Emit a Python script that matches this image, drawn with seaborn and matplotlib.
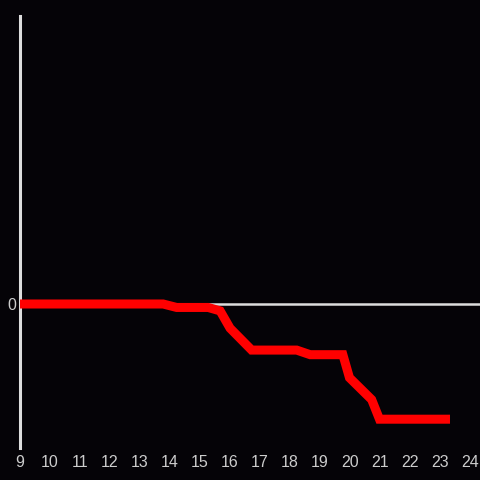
import matplotlib
matplotlib.use("Agg")
import matplotlib.pyplot as plt
import seaborn as sns
import pandas as pd

# =========================================================
# DATA
# =========================================================

hours = [9.0, 13.77, 14.22, 15.27, 15.67, 16.0, 16.72, 18.22, 18.67,
         19.76, 19.98, 20.72, 20.98, 23.33]
values = [0.0, 0.0, -0.03, -0.03, -0.06, -0.21, -0.40, -0.40, -0.44,
          -0.44, -0.64, -0.83, -1.0, -1.0]
x_ticks = list(range(9, 25))
y_ticks = [0]

df = pd.DataFrame({"hour": hours, "value": values})

# =========================================================
# STYLE
# =========================================================

sns.set_style("dark")
plt.rcParams["font.family"] = ["Liberation Sans", "DejaVu Sans"]

bg = "#050307"
fg = "#dddddd"

fig = plt.figure(figsize=(4.8, 4.8), dpi=100, facecolor=bg)
ax = fig.add_axes([20 / 480, 32 / 480, 460 / 480, 432 / 480])
ax.set_facecolor(bg)

# =========================================================
# PLOT
# =========================================================

ax.axhline(0, color=fg, linewidth=1.8, zorder=1)

sns.lineplot(
    x="hour",
    y="value",
    data=df,
    color="#ff0000",
    linewidth=6.5,
    solid_capstyle="butt",
    solid_joinstyle="miter",
    clip_on=False,
    ax=ax,
    zorder=3
)

ax.set_xlim(9, 24.33)
ax.set_ylim(-1.25, 2.5)
ax.set_xticks(x_ticks)
ax.set_yticks(y_ticks)
ax.set_xlabel("")
ax.set_ylabel("")
ax.grid(False)
ax.set_axisbelow(True)

for side in ["top", "right", "bottom"]:
    ax.spines[side].set_visible(False)
ax.spines["left"].set_color(fg)
ax.spines["left"].set_linewidth(2.2)
ax.spines["left"].set_zorder(2)

ax.tick_params(axis="both", length=0, colors="#cccccc", labelsize=11.5)
ax.tick_params(axis="x", pad=5)
ax.tick_params(axis="y", pad=3)

fig.savefig("out.png", dpi=100, facecolor=bg)
